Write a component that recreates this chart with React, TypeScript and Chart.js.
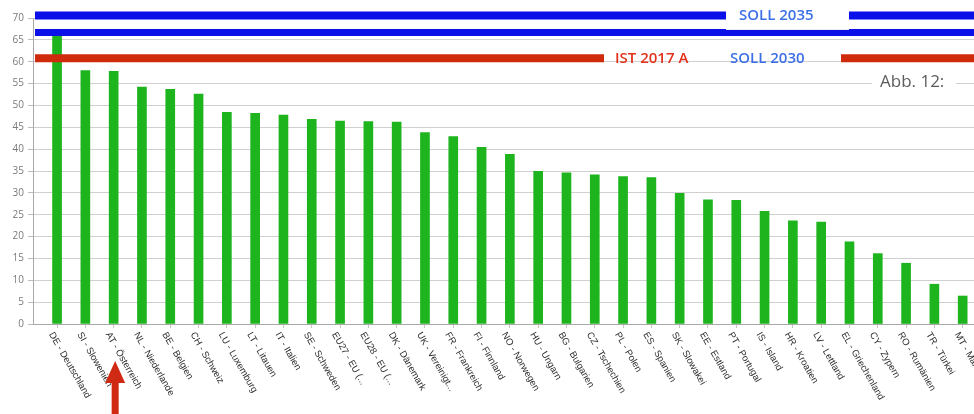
import React, { useEffect, useRef } from "react";
import { Chart, registerables } from "chart.js";

Chart.register(...registerables);

// ---- data ----
const categories = [
  "DE - Deutschland",
  "SI - Slowenien",
  "AT - Österreich",
  "NL - Niederlande",
  "BE - Belgien",
  "CH - Schweiz",
  "LU - Luxemburg",
  "LT - Litauen",
  "IT - Italien",
  "SE - Schweden",
  "EU27 - EU (...",
  "EU28 - EU (...",
  "DK - Dänemark",
  "UK - Vereinigt...",
  "FR - Frankreich",
  "FI - Finnland",
  "NO - Norwegen",
  "HU - Ungarn",
  "BG - Bulgarien",
  "CZ - Tschechien",
  "PL - Polen",
  "ES - Spanien",
  "SK - Slowakei",
  "EE - Estland",
  "PT - Portugal",
  "IS - Island",
  "HR - Kroatien",
  "LV - Lettland",
  "EL - Griechenland",
  "CY - Zypern",
  "RO - Rumänien",
  "TR - Türkei",
  "MT - Malta",
];

const values = [
  66, 58, 57.8, 54.2, 53.7, 52.6, 48.4, 48.2, 47.8, 46.8, 46.4, 46.3, 46.2,
  43.8, 42.9, 40.4, 38.8, 34.9, 34.6, 34.1, 33.7, 33.5, 29.9, 28.4, 28.3,
  25.8, 23.6, 23.3, 18.8, 16.1, 13.9, 9.1, 6.4,
];

const yTicks = [0, 5, 10, 15, 20, 25, 30, 35, 40, 45, 50, 55, 60, 65, 70];

const markerLabels = ["SOLL 2035", "SOLL 2030", "IST 2017 A"];
const markerValues = [70.6, 66.7, 60.8];
const highlightIndex = 2; // AT - Österreich
const figureCaption = "Abb. 12:";

const BLUE = "#0b10e8";
const RED = "#cf2a0c";
const TEXT_BLUE = "#3d6fe6";
const TEXT_RED = "#e2321c";

const overlayPlugin = {
  id: "overlay",
  afterDatasetsDraw(chart: any) {
    const { ctx, chartArea, scales } = chart;
    const y = scales.y;
    const left = chartArea.left + 2;
    const right = chart.width;
    ctx.save();

    const y35 = y.getPixelForValue(markerValues[0]);
    const y30 = y.getPixelForValue(markerValues[1]);
    const y17 = y.getPixelForValue(markerValues[2]);

    ctx.lineCap = "butt";
    ctx.strokeStyle = BLUE;
    ctx.lineWidth = 8;
    ctx.beginPath();
    ctx.moveTo(left, y35);
    ctx.lineTo(right, y35);
    ctx.stroke();

    ctx.lineWidth = 7;
    ctx.beginPath();
    ctx.moveTo(left, y30);
    ctx.lineTo(right, y30);
    ctx.stroke();

    ctx.strokeStyle = RED;
    ctx.lineWidth = 8;
    ctx.beginPath();
    ctx.moveTo(left, y17);
    ctx.lineTo(604, y17);
    ctx.moveTo(841, y17);
    ctx.lineTo(right, y17);
    ctx.stroke();

    // white label box for SOLL 2035
    ctx.fillStyle = "#ffffff";
    ctx.fillRect(726, 0, 123, 30);
    ctx.fillStyle = "rgba(0,0,0,0.08)";
    ctx.fillRect(726, 29, 123, 1);

    ctx.font = "600 15px 'Open Sans'";
    ctx.textBaseline = "middle";
    ctx.textAlign = "left";
    ctx.fillStyle = TEXT_BLUE;
    ctx.fillText(markerLabels[0], 739, y35 + 0.5);
    ctx.fillText(markerLabels[1], 730, y17 + 0.5);
    ctx.fillStyle = TEXT_RED;
    ctx.fillText(markerLabels[2], 615, y17 + 0.5);

    // caption
    ctx.fillStyle = "#ffffff";
    ctx.fillRect(872, 70, 84, 24);
    ctx.font = "17px 'Open Sans'";
    ctx.fillStyle = "#5c5c5c";
    ctx.fillText(figureCaption, 880, 82);

    ctx.restore();
  },
  afterDraw(chart: any) {
    const { ctx, scales } = chart;
    const x = scales.x;
    ctx.save();
    ctx.font = "9.5px 'Liberation Sans'";
    ctx.fillStyle = "#2e2e2e";
    ctx.textAlign = "left";
    ctx.textBaseline = "middle";
    categories.forEach((c, i) => {
      const px = x.getPixelForValue(i);
      ctx.save();
      ctx.translate(px - 6, 333);
      ctx.rotate(Math.PI / 3);
      ctx.fillText(c, 0, 0);
      ctx.restore();
    });

    // red arrow pointing at highlighted category
    const ax = x.getPixelForValue(highlightIndex) + 1.5;
    ctx.fillStyle = "#d02a14";
    ctx.beginPath();
    ctx.moveTo(ax, 361);
    ctx.lineTo(ax + 10, 383);
    ctx.lineTo(ax + 3.5, 383);
    ctx.lineTo(ax + 3.5, 414);
    ctx.lineTo(ax - 3.5, 414);
    ctx.lineTo(ax - 3.5, 383);
    ctx.lineTo(ax - 10, 383);
    ctx.closePath();
    ctx.fill();
    ctx.restore();
  },
};

export default function App() {
  const ref = useRef<HTMLCanvasElement | null>(null);

  useEffect(() => {
    if (!ref.current) return;
    const chart = new Chart(ref.current, {
      type: "bar",
      data: {
        datasets: [
          {
            data: values.map((v, i) => ({ x: i, y: v })),
            backgroundColor: "#1db41d",
            barThickness: 9,
          } as any,
        ],
      },
      options: {
        animation: false,
        responsive: true,
        maintainAspectRatio: false,
        layout: { padding: { top: 18, right: 0, bottom: 0, left: 0 } },
        plugins: {
          legend: { display: false },
          tooltip: { enabled: false },
        },
        scales: {
          x: {
            type: "linear",
            min: -0.85,
            max: 32.4,
            offset: false,
            afterBuildTicks: (s: any) => {
              s.ticks = categories.map((_, i) => ({ value: i }));
            },
            afterFit: (s: any) => {
              s.height = 90;
            },
            ticks: { display: false },
            grid: {
              offset: false,
              drawOnChartArea: false,
              tickLength: 4,
              color: "#c4c4c4",
            },
            border: { color: "#a8a8a8" },
          },
          y: {
            min: 0,
            max: 70,
            afterBuildTicks: (s: any) => {
              s.ticks = yTicks.map((v) => ({ value: v }));
            },
            afterFit: (s: any) => {
              s.width = 33;
            },
            ticks: {
              color: "#7a7a7a",
              font: { family: "'Open Sans'", size: 10 },
              padding: 4,
            },
            grid: { color: "#d0d0d0", tickLength: 5, tickColor: "#bdbdbd" },
            border: { color: "#a8a8a8" },
          },
        },
      },
      plugins: [overlayPlugin],
    });
    return () => chart.destroy();
  }, []);

  return (
    <div
      style={{
        position: "absolute",
        left: 0,
        top: 0,
        width: 974,
        height: 414,
        background: "#ffffff",
      }}
    >
      <canvas ref={ref} />
    </div>
  );
}
